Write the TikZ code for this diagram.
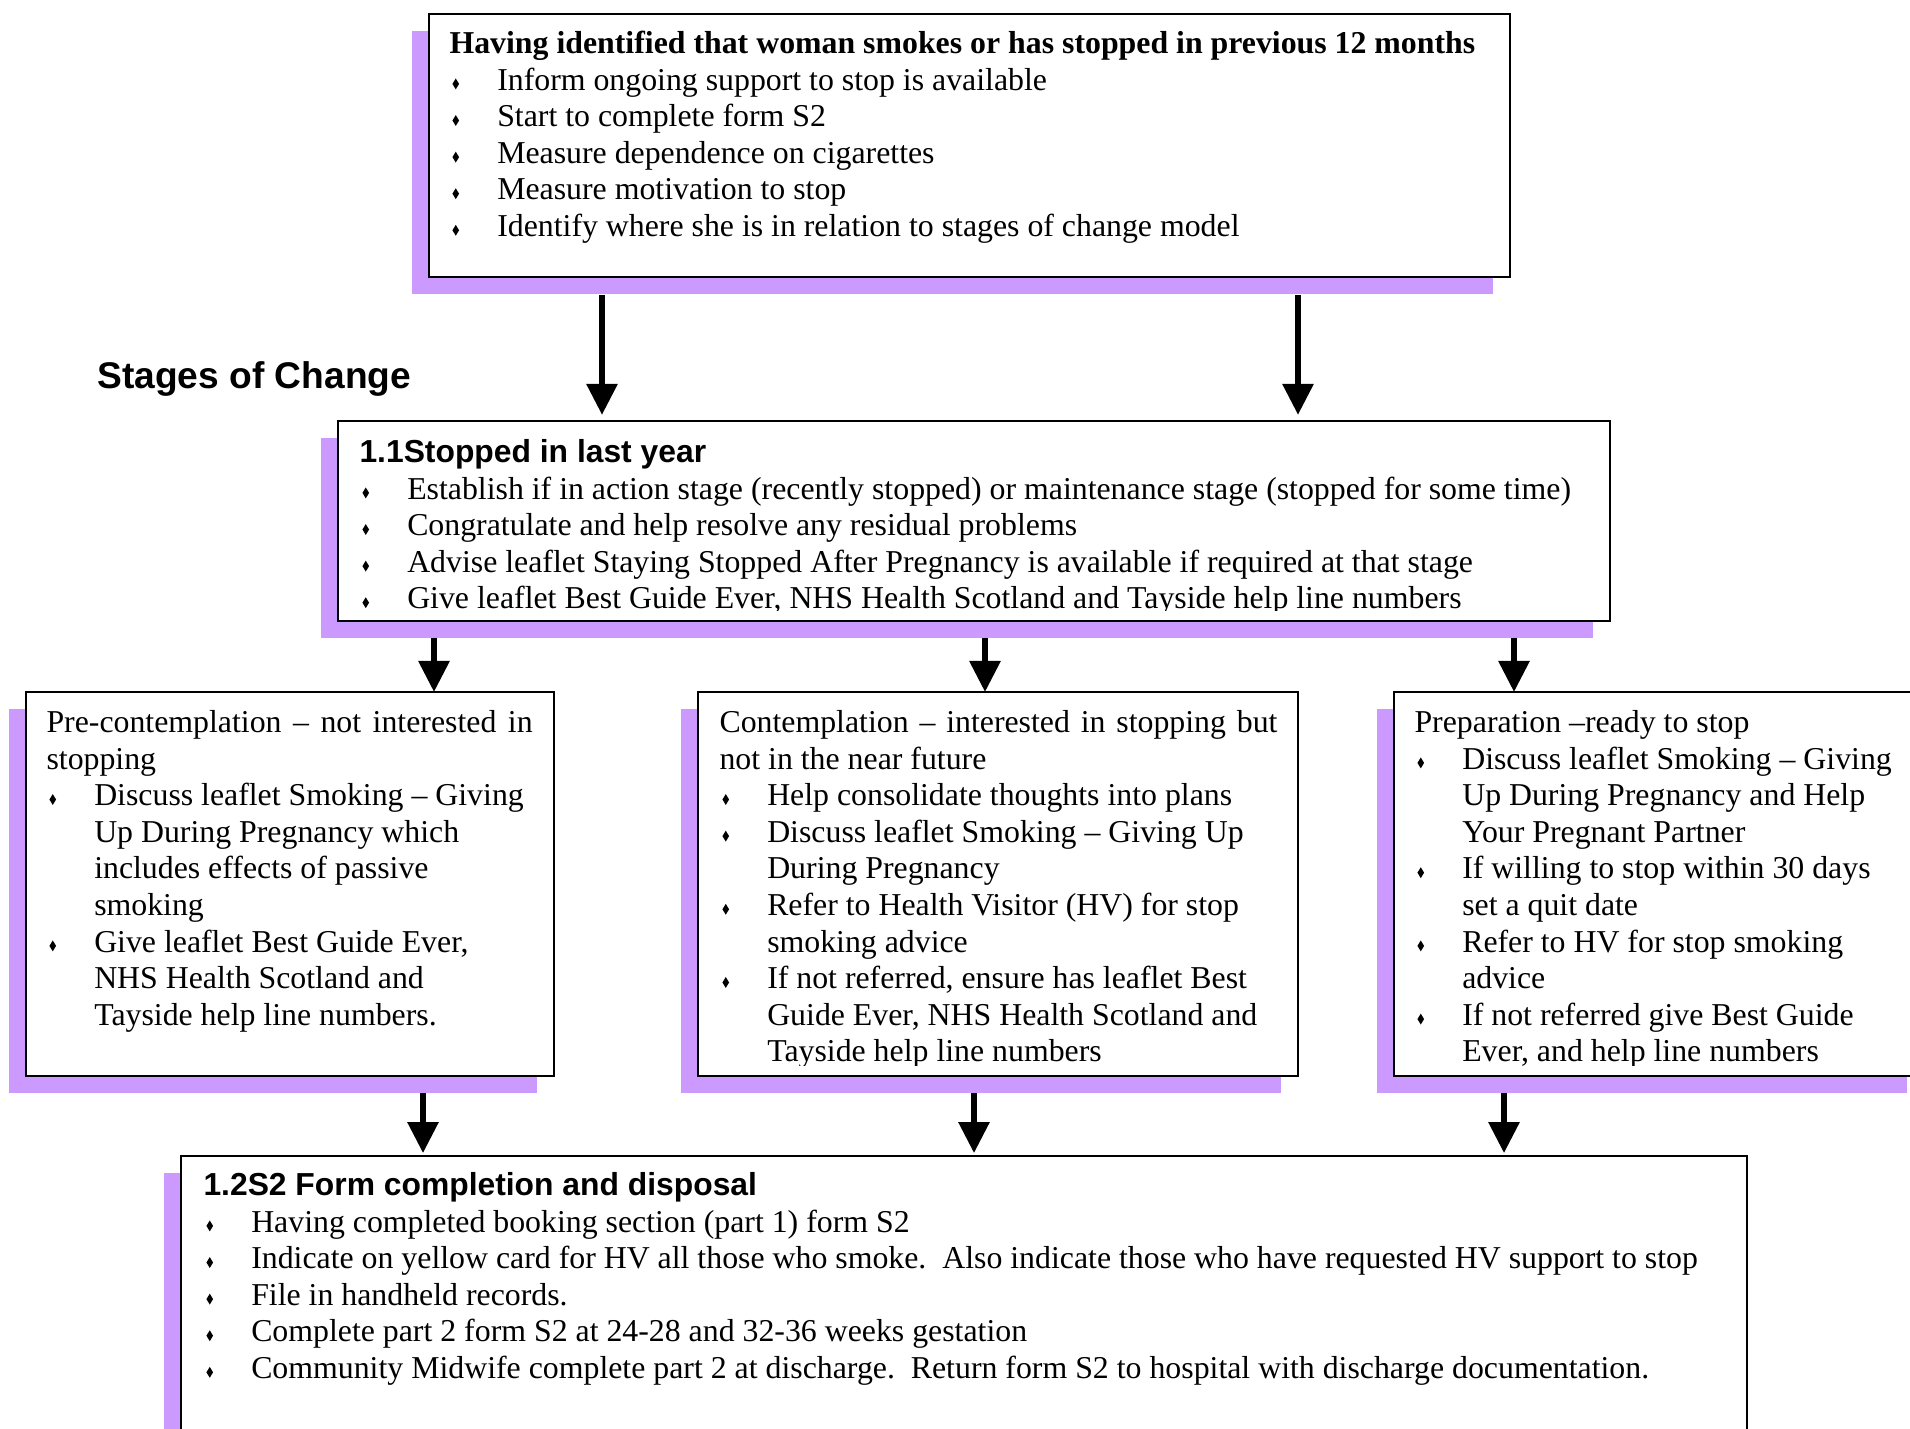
\documentclass[tikz,border=0pt]{standalone}
\usepackage{fontspec}
\setmainfont{Liberation Serif}
\setsansfont{Liberation Sans}
\usetikzlibrary{arrows.meta,fit,shadows}
\definecolor{lilac}{RGB}{204,153,255}

\newcommand{\bul}{\tikz[baseline=0pt]\fill (0pt,0.3pt) -- (1.25pt,2.35pt) -- (0pt,4.4pt) -- (-1.25pt,2.35pt) -- cycle;}
\newcommand{\itm}[1]{\par\hangindent=18pt\hangafter=1\noindent\makebox[18pt][l]{\hspace{1.1pt}\bul}#1}

\tikzset{
  box/.style={draw, fill=white, line width=0.8pt, inner sep=0pt, outer sep=0pt,
    drop shadow={shadow xshift=-6.4pt, shadow yshift=-6.4pt, fill=lilac, opacity=1}},
  txt/.style={anchor=north west, inner sep=0pt, align=justify,
    font=\fontsize{12}{13.8}\selectfont},
  arr/.style={-{Triangle[width=11.3pt,length=11.7pt]}, line width=2.3pt},
}

\begin{document}
\begin{tikzpicture}[x=0.3771pt, y=-0.3771pt]
\useasboundingbox (0,0) rectangle (1910,1429);
\clip (0,0) rectangle (1910,1429);

\node[box, fit={(429,14) (1510,277)}] (top) {};
\node[box, fit={(338,421) (1610,621)}] (stop) {};
\node[box, fit={(26,692) (554,1076)}] (pre) {};
\node[box, fit={(698,692) (1298,1076)}] (con) {};
\node[box, fit={(1394,692) (1924,1076)}] (prep) {};
\node[box, fit={(181,1156) (1747,1480)}] (form) {};

\node[anchor=base west, inner sep=0pt, font=\sffamily\bfseries\fontsize{14}{16.1}\selectfont] (stages) at (97,388) {Stages of Change};

\node[txt, text width=400pt] (toptxt) at ([shift={(20,13.4)}]top.north west) {\strut
  \noindent{\bfseries Having identified that woman smokes or has stopped in previous 12 months}
  \itm{Inform ongoing support to stop is available}
  \itm{Start to complete form S2}
  \itm{Measure dependence on cigarettes}
  \itm{Measure motivation to stop}
  \itm{Identify where she is in relation to stages of change model}\par};

\begin{scope}
  \clip (stop.north west) rectangle ([yshift=4.1pt]stop.south east);
  \node[txt, text width=463.8pt] (stoptxt) at ([shift={(21,15.4)}]stop.north west) {\strut
    \noindent{\sffamily\bfseries 1.1Stopped in last year}
    \itm{Establish if in action stage (recently stopped) or maintenance stage (stopped for some time)}
    \itm{Congratulate and help resolve any residual problems}
    \itm{Advise leaflet Staying Stopped After Pregnancy is available if required at that stage}
    \itm{Give leaflet Best Guide Ever, NHS Health Scotland and Tayside help line numbers}\par};
\end{scope}

\node[txt, text width=183.3pt] (pretxt) at ([shift={(20,14.4)}]pre.north west) {\strut
  \noindent Pre-contemplation -- not interested in\linebreak stopping
  \itm{Discuss leaflet Smoking -- Giving\newline Up During Pregnancy which\newline includes effects of passive\newline smoking}
  \itm{Give leaflet Best Guide Ever,\newline NHS Health Scotland and\newline Tayside help line numbers.}\par};

\begin{scope}
  \clip (con.north west) rectangle ([yshift=4.1pt]con.south east);
  \node[txt, text width=210.4pt] (contxt) at ([shift={(21,14.4)}]con.north west) {\strut
    \noindent Contemplation -- interested in stopping but\linebreak not in the near future
    \itm{Help consolidate thoughts into plans}
    \itm{Discuss leaflet Smoking -- Giving Up\newline During Pregnancy}
    \itm{Refer to Health Visitor (HV) for stop\newline smoking advice}
    \itm{If not referred, ensure has leaflet Best\newline Guide Ever, NHS Health Scotland and\newline Tayside help line numbers}\par};
\end{scope}

\begin{scope}
  \clip (prep.north west) rectangle ([yshift=4.1pt]prep.south east);
  \node[txt, text width=184pt] (preptxt) at ([shift={(20,14.4)}]prep.north west) {\strut
    \noindent Preparation --ready to stop
    \itm{Discuss leaflet Smoking -- Giving\newline Up During Pregnancy and Help\newline Your Pregnant Partner}
    \itm{If willing to stop within 30 days\newline set a quit date}
    \itm{Refer to HV for stop smoking\newline advice}
    \itm{If not referred give Best Guide\newline Ever, and help line numbers}\par};
\end{scope}

\node[txt, text width=574.7pt] (formtxt) at ([shift={(22,13.4)}]form.north west) {\strut
  \noindent{\sffamily\bfseries 1.2S2 Form completion and disposal}
  \itm{Having completed booking section (part 1) form S2}
  \itm{Indicate on yellow card for HV all those who smoke.\ \ Also indicate those who have requested HV support to stop}
  \itm{File in handheld records.}
  \itm{Complete part 2 form S2 at 24-28 and 32-36 weeks gestation}
  \itm{Community Midwife complete part 2 at discharge.\ \ Return form S2 to hospital with discharge documentation.}\par};

\coordinate (a1) at (602,295);
\coordinate (a2) at (1298,295);
\coordinate (b1) at (434,638);
\coordinate (b2) at (985,638);
\coordinate (b3) at (1514,638);
\coordinate (c1) at (423,1093);
\coordinate (c2) at (974,1093);
\coordinate (c3) at (1504,1093);

\draw[arr, shorten >=2.3pt] (a1) -- (a1 |- stop.north);
\draw[arr, shorten >=2.3pt] (a2) -- (a2 |- stop.north);
\draw[arr] (b1) -- (b1 |- pre.north);
\draw[arr] (b2) -- (b2 |- con.north);
\draw[arr] (b3) -- (b3 |- prep.north);
\draw[arr, shorten >=1.1pt] (c1) -- (c1 |- form.north);
\draw[arr, shorten >=1.1pt] (c2) -- (c2 |- form.north);
\draw[arr, shorten >=1.1pt] (c3) -- (c3 |- form.north);
\end{tikzpicture}
\end{document}
